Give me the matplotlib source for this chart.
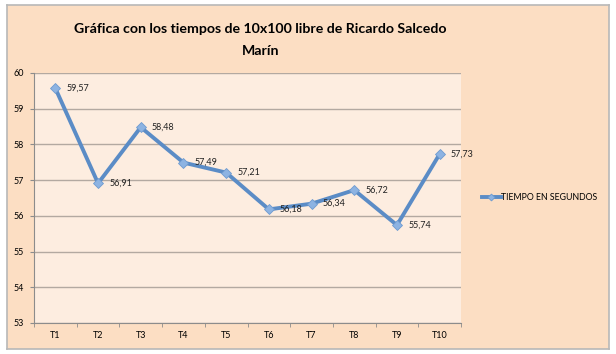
import matplotlib.pyplot as plt

categorias = ['T1', 'T2', 'T3', 'T4', 'T5', 'T6', 'T7', 'T8', 'T9', 'T10']
tiempos = [59.57, 56.91, 58.48, 57.49, 57.21, 56.18, 56.34, 56.72, 55.74, 57.73]
etiquetas = ['59,57', '56,91', '58,48', '57,49', '57,21', '56,18', '56,34', '56,72', '55,74', '57,73']
serie = 'TIEMPO EN SEGUNDOS'

plt.rcParams['font.family'] = ['Lato', 'DejaVu Sans']

fig = plt.figure(figsize=(6.16, 3.54), dpi=100)
fig.patch.set_facecolor('white')

# fondo del grafico (area del grafico con borde gris)
bg = fig.add_axes([0.0114, 0.0141, 0.977, 0.972])
bg.set_facecolor('#FCDEC3')
bg.set_xticks([])
bg.set_yticks([])
for s in bg.spines.values():
    s.set_color('#B8B8B8')
    s.set_linewidth(1.2)

ax = fig.add_axes([0.0552, 0.0876, 0.6932, 0.7064])
ax.set_facecolor('#FDEDE0')

x = list(range(len(categorias)))
ax.plot(x, tiempos, color='#5B8CC6', lw=2.8, marker='D', markersize=5,
        markerfacecolor='#8DB3E2', markeredgecolor='#6E9BD0', markeredgewidth=0.6,
        label=serie, zorder=3)
for i in range(len(x)):
    ax.annotate(etiquetas[i], (x[i], tiempos[i]), xytext=(8, 0), textcoords='offset points',
                va='center', ha='left', fontsize=6.5, color='#222222')

ax.set_xlim(-0.5, len(categorias) - 0.5)
ax.set_ylim(53, 60)
ax.set_yticks(range(53, 61))
ax.set_xticks(x)
ax.set_xticklabels(categorias)
ax.set_xticks([i - 0.5 for i in range(len(categorias) + 1)], minor=True)
ax.tick_params(axis='x', which='major', length=0, labelsize=6.5, pad=6)
ax.tick_params(axis='x', which='minor', length=3, direction='out', color='#8C8C8C')
ax.tick_params(axis='y', length=3, direction='out', color='#8C8C8C', labelsize=6.5, pad=4)
ax.grid(axis='y', color='#B3A9A1', lw=1)
ax.set_axisbelow(True)
for s in ['top', 'right']:
    ax.spines[s].set_visible(False)
for s in ['left', 'bottom']:
    ax.spines[s].set_color('#8C8C8C')
    ax.spines[s].set_linewidth(0.8)

fig.text(0.423, 0.887, 'Gráfica con los tiempos de 10x100 libre de Ricardo Salcedo\nMarín',
         ha='center', va='center', fontsize=10.2, fontweight='bold', linespacing=2.0)

leg = ax.legend(loc='center left', bbox_to_anchor=(1.03, 0.5), frameon=False, fontsize=6.3,
                handlelength=2.2, handletextpad=0.0, markerscale=0.7)

fig.savefig('out.png', dpi=100)
